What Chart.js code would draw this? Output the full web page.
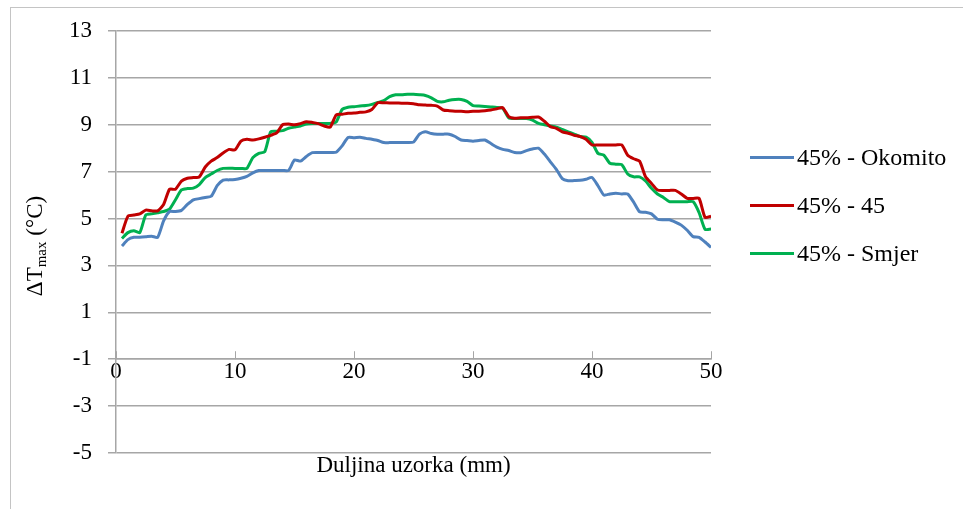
<!DOCTYPE html>
<html>
<head>
<meta charset="utf-8">
<script src="https://cdn.jsdelivr.net/npm/chart.js@4.4.1/dist/chart.umd.min.js"></script>
<style>
  body { margin: 0; background: #fff; }
  #wrap { position: relative; width: 963px; height: 509px; overflow: hidden; }
  #frame { position: absolute; left: 10px; top: 7px; right: 0; bottom: 0;
           border-left: 1px solid #c4c4c4; border-top: 1px solid #c4c4c4; }
  canvas { position: absolute; left: 0; top: 0; }
  #legend { position: absolute; left: 750px; top: 133px; font-family: "Liberation Serif", serif;
            font-size: 24px; color: #000; }
  .item { display: flex; align-items: center; height: 48px; }
  .swatch { width: 44px; height: 3px; margin-right: 3px; }
</style>
</head>
<body>
<div id="wrap">
  <div id="frame"></div>
  <canvas id="chart" width="963" height="509"></canvas>
  <div id="legend"></div>
</div>
<script>
// sample positions along the specimen (mm)
const positions = [
  0.5, 1, 1.5, 2, 2.5, 3, 3.5, 4, 4.5, 5, 5.5, 6, 6.5, 7, 7.5, 8, 8.5, 9, 9.5, 10,
  10.5, 11, 11.5, 12, 12.5, 13, 13.5, 14, 14.5, 15, 15.5, 16, 16.5, 17, 17.5, 18, 18.5, 19, 19.5, 20,
  20.5, 21, 21.5, 22, 22.5, 23, 23.5, 24, 24.5, 25, 25.5, 26, 26.5, 27, 27.5, 28, 28.5, 29, 29.5, 30,
  30.5, 31, 31.5, 32, 32.5, 33, 33.5, 34, 34.5, 35, 35.5, 36, 36.5, 37, 37.5, 38, 38.5, 39, 39.5, 40,
  40.5, 41, 41.5, 42, 42.5, 43, 43.5, 44, 44.5, 45, 45.5, 46, 46.5, 47, 47.5, 48, 48.5, 49, 49.5, 50];

const okomito = [
  3.83, 4.1, 4.2, 4.2, 4.22, 4.25, 4.2, 4.9, 5.3, 5.3, 5.35, 5.6, 5.8, 5.85, 5.9, 5.95, 6.4, 6.64, 6.65, 6.67,
  6.72, 6.8, 6.95, 7.05, 7.05, 7.05, 7.05, 7.05, 7.05, 7.5, 7.45, 7.65, 7.81, 7.82, 7.82, 7.82, 7.83, 8.1, 8.46, 8.45,
  8.47, 8.42, 8.38, 8.33, 8.24, 8.24, 8.24, 8.24, 8.24, 8.26, 8.6, 8.7, 8.63, 8.6, 8.6, 8.6, 8.5, 8.35, 8.33, 8.3,
  8.33, 8.35, 8.2, 8.05, 7.95, 7.9, 7.82, 7.81, 7.9, 7.97, 8.0, 7.75, 7.42, 7.1, 6.7, 6.61, 6.62, 6.63, 6.68, 6.75,
  6.4, 6.0, 6.05, 6.08, 6.05, 6.05, 5.7, 5.29, 5.27, 5.2, 4.97, 4.95, 4.95, 4.85, 4.72, 4.5, 4.23, 4.2, 4.0, 3.77];

const kut45 = [
  4.37, 5.1, 5.15, 5.2, 5.36, 5.33, 5.33, 5.6, 6.25, 6.25, 6.6, 6.72, 6.75, 6.78, 7.2, 7.45, 7.6, 7.8, 7.95, 7.93,
  8.3, 8.38, 8.35, 8.4, 8.47, 8.55, 8.65, 9.0, 9.03, 9.0, 9.05, 9.13, 9.1, 9.05, 8.95, 8.9, 9.42, 9.45, 9.49, 9.5,
  9.53, 9.55, 9.65, 9.94, 9.94, 9.93, 9.93, 9.92, 9.92, 9.9, 9.85, 9.84, 9.83, 9.8, 9.63, 9.6, 9.58, 9.58, 9.56, 9.58,
  9.58, 9.6, 9.63, 9.68, 9.73, 9.35, 9.28, 9.3, 9.3, 9.32, 9.33, 9.15, 8.92, 8.85, 8.7, 8.64, 8.55, 8.5, 8.38, 8.14,
  8.14, 8.14, 8.14, 8.14, 8.14, 7.7, 7.55, 7.45, 6.78, 6.5, 6.22, 6.2, 6.2, 6.2, 6.05, 5.86, 5.86, 5.86, 5.05, 5.1];

const smjer = [
  4.15, 4.4, 4.48, 4.4, 5.15, 5.2, 5.25, 5.3, 5.4, 5.8, 6.22, 6.28, 6.3, 6.45, 6.75, 6.9, 7.05, 7.14, 7.15, 7.14,
  7.14, 7.14, 7.6, 7.78, 7.85, 8.7, 8.72, 8.75, 8.85, 8.9, 8.95, 9.03, 9.05, 9.05, 9.05, 9.06, 9.12, 9.65, 9.75, 9.77,
  9.8, 9.82, 9.87, 9.95, 10.03, 10.2, 10.28, 10.28, 10.3, 10.3, 10.28, 10.25, 10.15, 10.0, 9.98, 10.05, 10.08, 10.08, 10.0, 9.82,
  9.8, 9.78, 9.76, 9.74, 9.7, 9.3, 9.27, 9.27, 9.27, 9.2, 9.06, 9.0, 8.95, 8.9, 8.8, 8.7, 8.6, 8.5, 8.47, 8.25,
  7.78, 7.7, 7.36, 7.32, 7.3, 6.9, 6.78, 6.78, 6.6, 6.29, 6.05, 5.9, 5.72, 5.72, 5.72, 5.72, 5.72, 5.25, 4.54, 4.55];

const seriesNames = ['45% - Okomito', '45% - 45', '45% - Smjer'];
const seriesColors = ['#4F81BD', '#C00000', '#00B050'];
const seriesValues = [okomito, kut45, smjer];

const FONT = '"Liberation Serif", "Times New Roman", serif';
const GRID = '#a6a6a6';

// x-axis tick marks point up from the axis drawn at -1, plus the two axis titles
const extras = {
  id: 'extras',
  afterDraw(chart) {
    const { ctx, scales: { x, y }, chartArea } = chart;
    const yAxis = y.getPixelForValue(-1);
    ctx.save();
    ctx.strokeStyle = GRID;
    ctx.lineWidth = 1;
    x.ticks.forEach(t => {
      const px = Math.round(x.getPixelForValue(t.value)) + 0.5;
      ctx.beginPath();
      ctx.moveTo(px, yAxis - 8);
      ctx.lineTo(px, yAxis);
      ctx.stroke();
    });

    ctx.fillStyle = '#000';
    ctx.font = '23px ' + FONT;
    ctx.textAlign = 'center';
    ctx.textBaseline = 'middle';
    ctx.fillText('Duljina uzorka (mm)', (chartArea.left + chartArea.right) / 2, 466);

    // rotated y title with subscript
    ctx.translate(36, 246);
    ctx.rotate(-Math.PI / 2);
    ctx.textAlign = 'left';
    const big = '23px ' + FONT, small = '15px ' + FONT;
    ctx.font = big;
    const w1 = ctx.measureText('\u0394T').width;
    const w3 = ctx.measureText(' (\u00B0C)').width;
    ctx.font = small;
    const w2 = ctx.measureText('max').width;
    let cx = -(w1 + w2 + w3) / 2;
    ctx.font = big;
    ctx.fillText('\u0394T', cx, 0);
    cx += w1;
    ctx.font = small;
    ctx.fillText('max', cx, 6);
    cx += w2;
    ctx.font = big;
    ctx.fillText(' (\u00B0C)', cx, 0);
    ctx.restore();
  }
};

new Chart(document.getElementById('chart'), {
  type: 'line',
  data: {
    datasets: seriesNames.map((name, i) => ({
      label: name,
      data: positions.map((p, j) => ({ x: p, y: seriesValues[i][j] })),
      borderColor: seriesColors[i],
      borderWidth: 3,
      pointRadius: 0,
      tension: 0.2,
      fill: false
    }))
  },
  options: {
    responsive: false,
    animation: false,
    layout: { padding: { left: 10, top: 31, right: 252, bottom: 56 } },
    plugins: { legend: { display: false }, tooltip: { enabled: false } },
    scales: {
      x: {
        type: 'linear',
        position: { y: -1 },
        min: 0, max: 50,
        afterFit: s => { s.height = 0; },
        ticks: { stepSize: 10, padding: -1, color: '#000', font: { family: FONT, size: 23 } },
        grid: { drawOnChartArea: false, drawTicks: false },
        border: { color: GRID, width: 1.5 }
      },
      y: {
        min: -5, max: 13,
        afterFit: s => { s.width = 106; },
        ticks: { stepSize: 2, padding: 16, color: '#000', font: { family: FONT, size: 23 } },
        grid: { color: GRID, lineWidth: 1.5, tickLength: 8 },
        border: { color: GRID, width: 1.5 }
      }
    }
  },
  plugins: [extras]
});

const legend = document.getElementById('legend');
seriesNames.forEach((name, i) => {
  const row = document.createElement('div');
  row.className = 'item';
  const sw = document.createElement('span');
  sw.className = 'swatch';
  sw.style.background = seriesColors[i];
  const txt = document.createElement('span');
  txt.textContent = name;
  row.appendChild(sw);
  row.appendChild(txt);
  legend.appendChild(row);
});
</script>
</body>
</html>
